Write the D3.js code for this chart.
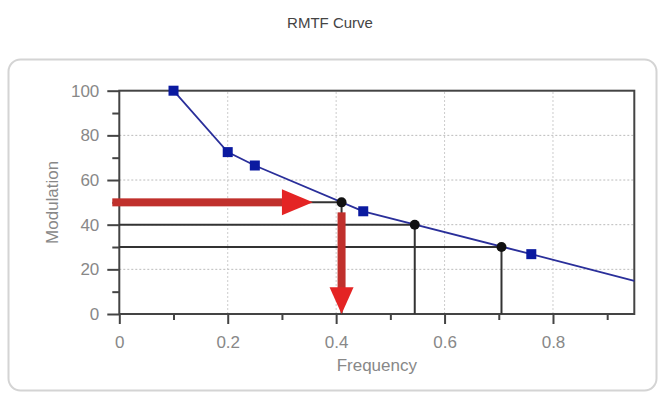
<!DOCTYPE html>
<html><head><meta charset="utf-8">
<script src="https://cdn.jsdelivr.net/npm/d3@7"></script>
<style>body{margin:0;background:#fff}svg{display:block}</style>
</head><body>
<svg id="c" width="661" height="400"></svg>
<script>
// Data
const freq = [0.1, 0.2, 0.25, 0.45, 0.76];
const modulation = [100, 72.5, 66.5, 46, 26.8];
const curveEnd = {f: 0.95, m: 14.8};
const markFreq = [0.41, 0.545, 0.705];
const markMod = [50, 40, 30];
const xTicks = [0, 0.2, 0.4, 0.6, 0.8];
const xMinor = [0.1, 0.3, 0.5, 0.7, 0.9];
const yTicks = [0, 20, 40, 60, 80, 100];
const yMinor = [10, 30, 50, 70, 90];

const svg = d3.select("#c");
const x = d3.scaleLinear().domain([0, 0.95]).range([119.3, 634.3]);
const y = d3.scaleLinear().domain([0, 100]).range([314, 90.7]);
const font = "'Liberation Sans', Arial, sans-serif";

// Title
svg.append("text").attr("x", 330).attr("y", 28).attr("text-anchor", "middle")
  .attr("font-family", font).attr("font-size", 15).attr("fill", "#444").text("RMTF Curve");

// Panel
svg.append("rect").attr("x", 8.5).attr("y", 59.5).attr("width", 648).attr("height", 331)
  .attr("rx", 12).attr("fill", "#fff").attr("stroke", "#d4d4d4").attr("stroke-width", 2);

// Grid
const g = svg.append("g");
g.selectAll(".gy").data(yTicks.filter(v => v > 0 && v < 100)).join("line")
  .attr("x1", x(0)).attr("x2", x(0.95)).attr("y1", d => y(d)).attr("y2", d => y(d))
  .attr("stroke", "#bbb").attr("stroke-dasharray", "2,2").attr("stroke-width", 1);
g.selectAll(".gx").data(xTicks.filter(v => v > 0)).join("line")
  .attr("y1", y(0)).attr("y2", y(100)).attr("x1", d => x(d)).attr("x2", d => x(d))
  .attr("stroke", "#ccc").attr("stroke-dasharray", "2,2").attr("stroke-width", 1);

// Axes
const xAxis = d3.axisBottom(x).tickValues(xTicks).tickFormat(d3.format("")).tickSize(10).tickPadding(12);
const xAxisG = svg.append("g").attr("transform", `translate(0,${y(0)})`).call(xAxis);
const xMinorG = svg.append("g").attr("transform", `translate(0,${y(0)})`)
  .call(d3.axisBottom(x).tickValues(xMinor).tickFormat("").tickSize(6));
const yAxis = d3.axisLeft(y).tickValues(yTicks).tickSize(12).tickPadding(8);
const yAxisG = svg.append("g").attr("transform", `translate(${x(0)},0)`).call(yAxis);
const yMinorG = svg.append("g").attr("transform", `translate(${x(0)},0)`)
  .call(d3.axisLeft(y).tickValues(yMinor).tickFormat("").tickSize(7));
[xAxisG, xMinorG, yAxisG, yMinorG].forEach(a => {
  a.select(".domain").remove();
  a.selectAll("line").attr("stroke", "#444").attr("stroke-width", 2);
  a.selectAll("text").attr("font-family", font).attr("font-size", 17).attr("fill", "#888");
});
// Frame
svg.append("rect").attr("x", x(0)).attr("y", y(100)).attr("width", x(0.95) - x(0)).attr("height", y(0) - y(100))
  .attr("fill", "none").attr("stroke", "#444").attr("stroke-width", 2);

// Axis titles
svg.append("text").attr("x", (x(0) + x(0.95)) / 2).attr("y", 371).attr("text-anchor", "middle")
  .attr("font-family", font).attr("font-size", 17).attr("fill", "#888").text("Frequency");
svg.append("text").attr("transform", `translate(58,${y(50)}) rotate(-90)`).attr("text-anchor", "middle")
  .attr("font-family", font).attr("font-size", 17).attr("fill", "#888").text("Modulation");

// Reference lines (black)
const marks = markFreq.map((f, i) => ({f, m: markMod[i]}));
svg.selectAll(".hl").data(marks).join("line")
  .attr("x1", x(0)).attr("x2", d => x(d.f)).attr("y1", d => y(d.m)).attr("y2", d => y(d.m))
  .attr("stroke", "#333").attr("stroke-width", 2);
svg.selectAll(".vl").data(marks).join("line")
  .attr("x1", d => x(d.f)).attr("x2", d => x(d.f)).attr("y1", d => y(d.m)).attr("y2", y(0))
  .attr("stroke", "#333").attr("stroke-width", 2);

// Curve
const pts = freq.map((f, i) => ({f, m: modulation[i]}));
const line = d3.line().x(d => x(d.f)).y(d => y(d.m));
svg.append("path").datum(pts.concat([curveEnd])).attr("d", line)
  .attr("fill", "none").attr("stroke", "#2a2f9a").attr("stroke-width", 1.8);
svg.selectAll(".sq").data(pts).join("rect")
  .attr("x", d => x(d.f) - 5).attr("y", d => y(d.m) - 5).attr("width", 10).attr("height", 10)
  .attr("fill", "#0b1aa0");

// Red arrows
const a0 = marks[0];
const shaft = "#c0302c", head = "#e42424";
svg.append("rect").attr("x", x(0) - 7).attr("y", y(a0.m) - 4).attr("width", x(0.303) - x(0) + 7).attr("height", 8)
  .attr("fill", shaft);
svg.append("path").attr("d", `M${x(0.3)},${y(a0.m) - 13} L${x(0.357)},${y(a0.m)} L${x(0.3)},${y(a0.m) + 13} Z`)
  .attr("fill", head);
svg.append("rect").attr("x", x(a0.f) - 4).attr("y", y(a0.m) + 10).attr("width", 8).attr("height", y(6) - y(a0.m) - 10)
  .attr("fill", shaft);
svg.append("path").attr("d", `M${x(a0.f) - 12},${y(12)} L${x(a0.f) + 12},${y(12)} L${x(a0.f)},${y(0)} Z`)
  .attr("fill", head);

// Black dots
svg.selectAll(".dot").data(marks).join("circle")
  .attr("cx", d => x(d.f)).attr("cy", d => y(d.m)).attr("r", 5).attr("fill", "#111");
</script>
</body></html>
